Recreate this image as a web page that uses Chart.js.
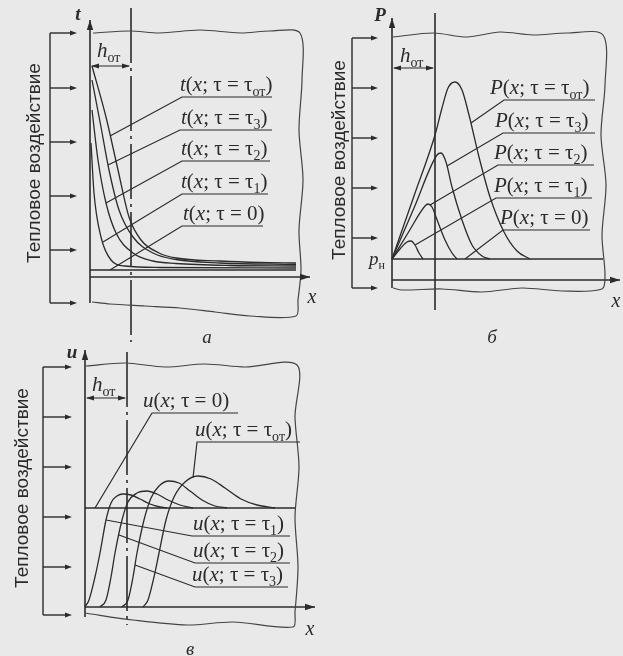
<!DOCTYPE html>
<html>
<head>
<meta charset="utf-8">
<script src="https://cdn.jsdelivr.net/npm/chart.js@4.4.1/dist/chart.umd.min.js"></script>
<style>
html,body{margin:0;padding:0;background:#e9e9e9;}
#wrap{position:relative;width:623px;height:656px;overflow:hidden;}
#wrap canvas{position:absolute;}
</style>
</head>
<body>
<div id="wrap">
	<canvas id="chartA" width="322" height="348" style="left:0;top:0"></canvas>
	<canvas id="chartB" width="301" height="348" style="left:322px;top:0"></canvas>
	<canvas id="chartC" width="340" height="308" style="left:0;top:348px"></canvas>
</div>
<script>
// Units: x = depth (1 unit = 10 px of the figure), y = value above the x axis

// ---- а: temperature t(x) ----
const aTauOt = [[0.2,21.1],[1.6,16.0],[2.8,10.7],[3.9,6.0],[5.1,3.7],[6.9,2.4],[8.6,1.9],[13.0,1.6],[17.0,1.45],[20.6,1.4]];
const aTau3  = [[0.2,19.7],[1.1,15.0],[1.9,10.7],[2.9,6.7],[4.3,4.0],[6.3,2.4],[8.6,1.75],[13.0,1.4],[20.6,1.25]];
const aTau2  = [[0.2,16.7],[0.8,11.7],[1.6,7.4],[2.6,4.4],[4.3,2.4],[6.3,1.6],[8.6,1.35],[14.0,1.15],[20.6,1.1]];
const aTau1  = [[0.1,13.4],[0.4,8.4],[1.1,4.0],[2.1,1.7],[3.5,1.1],[7.0,0.95],[20.6,0.9]];
const aTau0  = [[0,0.7],[20.6,0.7]];
// leaders: order τот, τ3, τ2, τ1, 0
const aLeaderEnd = [[2.0,14.1],[1.8,11.2],[1.6,7.4],[1.3,3.5],[2.0,0.7]];
const aUnderY  = [18.0,14.7,11.6,8.3,5.1];
const aUnderX0 = [9.2,9.0,9.2,9.2,9.2];
const aUnderX1 = [18.2,18.2,18.0,17.8,17.3];
const aLabelX  = [9.0,9.1,9.1,9.1,9.3];
const aLabelY  = [18.6,15.3,12.2,8.9,5.7];
const aFrame = [[0.3,24.4],[4.0,24.6],[7.0,24.4],[11.0,24.7],[15.0,24.4],[18.0,24.6],[21.0,24.4],[21.2,19.7],[20.9,14.7],[21.3,9.7],[20.9,4.7],[21.1,0.7],[20.8,-2.3],[20.6,-3.9],[16.0,-3.9],[12.5,-3.5],[9.0,-3.1],[5.5,-2.9],[2.0,-2.7],[0.2,-2.5]];
const aArrowsY = [24.4,18.9,13.5,8.1,2.7,-2.6];

// ---- б: pressure P(x) ----
const bTauOt = [[0,2.1],[2.2,8.4],[4.3,14.5],[5.0,17.2],[5.6,19.2],[6.3,19.8],[7.0,19.0],[7.7,16.5],[8.7,12.3],[9.8,8.3],[11.2,4.8],[12.5,2.9],[13.8,2.1]];
const bTau3  = [[0,2.1],[2.2,7.2],[4.5,12.5],[4.9,12.7],[5.4,11.8],[6.0,9.3],[7.0,6.0],[8.0,3.5],[9.0,2.4],[9.8,2.1]];
const bTau2  = [[0,2.1],[1.6,4.7],[3.3,7.4],[3.6,7.6],[4.0,7.3],[4.4,6.3],[5.3,4.0],[6.0,2.7],[6.5,2.1]];
const bTau1  = [[0,2.1],[0.8,3.1],[1.5,3.8],[1.9,3.9],[2.3,3.5],[2.7,2.7],[3.1,2.1]];
const bTau0  = [[0,2.1],[21.1,2.1]];
const bLeaderEnd = [[7.9,15.7],[5.5,11.4],[3.8,7.5],[2.3,3.5],[7.3,2.1]];
const bUnderY  = [18.0,14.7,11.5,8.2,5.0];
const bUnderX0 = [11.2,11.1,10.6,10.4,11.1];
const bUnderX1 = [20.3,20.3,20.2,20.0,19.8];
const bLabelX  = [9.8,10.3,10.2,10.2,10.8];
const bLabelY  = [18.6,15.3,12.1,8.8,5.6];
const bFrame = [[0.1,24.3],[4.1,24.7],[7.5,24.3],[10.8,24.8],[14.1,24.5],[17.5,24.7],[21.1,24.5],[21.3,19.5],[20.9,14.5],[21.4,9.5],[21.0,4.5],[21.3,0.5],[21.0,-0.9],[17.0,-1.1],[13.0,-0.8],[9.0,-1.2],[5.0,-0.9],[1.0,-1.0],[0.1,-0.8]];
const bArrowsY = [24.2,19.2,14.2,9.2,4.2,-0.8];

// ---- в: moisture u(x) ----
const cTauOt = [[5.8,0],[6.3,0.7],[6.9,3.0],[7.4,5.4],[8.1,8.7],[8.9,11.0],[10.0,12.5],[11.3,13.1],[12.6,12.8],[14.0,11.9],[15.6,10.8],[17.2,10.2],[19.0,9.9]];
const cTau3  = [[3.7,0],[4.3,0.7],[4.8,3.0],[5.2,5.4],[5.9,8.7],[6.6,10.9],[7.4,12.1],[8.4,12.6],[9.4,12.4],[10.5,11.6],[11.7,10.7],[13.0,10.1],[14.2,9.9]];
const cTau2  = [[1.5,0],[2.1,0.7],[2.6,3.0],[3.0,5.4],[3.7,8.7],[4.3,10.5],[5.2,11.4],[6.2,11.6],[7.2,11.3],[8.3,10.7],[9.5,10.2],[10.8,9.9]];
const cTau1  = [[0,0],[0.4,0.7],[1.0,3.0],[1.5,5.4],[2.1,8.7],[2.6,10.4],[3.2,11.1],[3.8,11.3],[4.6,11.2],[5.5,10.8],[6.5,10.3],[7.5,10.0],[8.2,9.9]];
const cTau0  = [[0,9.9],[21.0,9.9]];
// leaders: order 0, τот, τ1, τ2, τ3
const cLeaderEnd = [[1.0,9.9],[10.8,12.9],[2.1,8.7],[3.4,7.2],[5.0,4.2]];
const cUnderY  = [19.4,16.5,7.1,4.4,2.0];
const cUnderX0 = [6.7,11.2,10.7,11.0,11.0];
const cUnderX1 = [15.3,21.5,20.5,20.5,20.3];
const cLabelX  = [5.8,11.0,10.8,10.8,10.7];
const cLabelY  = [20.0,17.1,7.7,5.0,2.6];
const cFrame = [[0.1,24.1],[4.0,24.4],[8.0,24.0],[12.0,24.3],[16.0,24.0],[21.2,24.2],[21.0,19.0],[21.4,14.0],[21.0,9.0],[21.3,4.0],[21.0,-0.5],[20.8,-2.0],[14.8,-1.5],[10.2,-1.8],[4.8,-1.3],[0.0,-0.6]];
const cArrowsY = [24.0,19.0,14.0,9.0,4.0,-0.8];

const INK = '#2b2b2b';
const SERIF = '"Liberation Serif","Times New Roman",serif';
const SANS = '"Liberation Sans",Arial,sans-serif';
const SIDE_TEXT = 'Тепловое воздействие';
const LABEL_PX = 21;

function pts(a){ return a.map(p=>({x:p[0], y:p[1]})); }
function curve(a){ return {data:pts(a), showLine:true, pointRadius:0, borderColor:INK, borderWidth:1.3, cubicInterpolationMode:'monotone'}; }
function straight(a, w, dash){ return {data:pts(a), showLine:true, pointRadius:0, borderColor:INK, borderWidth:w||1.2, tension:0, borderDash:dash||[]}; }
function wavy(a){ return {data:pts(a), showLine:true, pointRadius:0, borderColor:'#444', borderWidth:1.2, tension:0.3}; }
function leaders(ends, ys, x0s, x1s){ return ends.map((e,i)=>straight([e,[x0s[i],ys[i]],[x1s[i],ys[i]]], 1.2)); }

// label text as parts: [text, style] where style i = italic, s = subscript
function fnLabel(v, sub){
	const p = [[v,'i'],['(',''],['x','i'],['; τ = ','']];
	if(sub === '0') p.push(['0','']); else p.push(['τ',''],[sub,'s']);
	p.push([')','']);
	return p;
}

function drawParts(ctx, parts, x, y, size){
	let cx = x;
	parts.forEach(([t, st])=>{
		const sub = st === 's';
		ctx.font = (st === 'i' ? 'italic ' : '') + (sub ? Math.round(size*0.65) : size) + 'px ' + SERIF;
		ctx.fillText(t, cx, sub ? y + size*0.22 : y);
		cx += ctx.measureText(t).width;
	});
}

function arrowHead(ctx, x1, y1, x2, y2, len, half){
	const a = Math.atan2(y2-y1, x2-x1), c = Math.cos(a), s = Math.sin(a);
	ctx.beginPath();
	ctx.moveTo(x2, y2);
	ctx.lineTo(x2 - len*c + half*s, y2 - len*s - half*c);
	ctx.lineTo(x2 - len*c - half*s, y2 - len*s + half*c);
	ctx.closePath(); ctx.fill();
}

const decor = {
	id: 'decor',
	afterDatasetsDraw(chart, args, o){
		const ctx = chart.ctx;
		const X = v => chart.scales.x.getPixelForValue(v);
		const Y = v => chart.scales.y.getPixelForValue(v);
		ctx.save();
		ctx.strokeStyle = INK; ctx.fillStyle = INK; ctx.lineWidth = 1.4;

		// bracket of heat arrows
		const b = o.bracket;
		ctx.beginPath(); ctx.moveTo(X(b.x), Y(b.ys[0])); ctx.lineTo(X(b.x), Y(b.ys[b.ys.length-1])); ctx.stroke();
		b.ys.forEach(v=>{
			ctx.beginPath(); ctx.moveTo(X(b.x), Y(v)); ctx.lineTo(X(b.tip)-3, Y(v)); ctx.stroke();
			arrowHead(ctx, X(b.x), Y(v), X(b.tip), Y(v), 7, 2.5);
		});

		// side caption
		ctx.save();
		ctx.translate(X(o.side[0]), Y(o.side[1])); ctx.rotate(-Math.PI/2);
		ctx.font = '19px ' + SANS; ctx.textAlign = 'center'; ctx.textBaseline = 'middle';
		ctx.fillText(SIDE_TEXT, 0, 0);
		ctx.restore();

		// axis arrow heads
		arrowHead(ctx, X(0), Y(0), X(0), Y(o.yTop), 10, 3.2);
		arrowHead(ctx, X(0), Y(0), X(o.xTip), Y(0), 10, 3.2);

		// axis names
		ctx.textAlign = 'center'; ctx.textBaseline = 'middle';
		ctx.font = 'italic bold 19px ' + SERIF;
		ctx.fillText(o.yName, X(o.yNameAt[0]), Y(o.yNameAt[1]));
		ctx.font = 'italic 20px ' + SERIF;
		ctx.fillText('x', X(o.xNameAt[0]), Y(o.xNameAt[1]));

		// h_от dimension
		ctx.lineWidth = 1.1;
		const h = o.hot;
		ctx.beginPath(); ctx.moveTo(X(0)+2, Y(h.y)); ctx.lineTo(X(h.x)-2, Y(h.y)); ctx.stroke();
		arrowHead(ctx, X(h.x), Y(h.y), X(0)+1, Y(h.y), 8, 2.5);
		arrowHead(ctx, X(0), Y(h.y), X(h.x)-1, Y(h.y), 8, 2.5);
		ctx.textAlign = 'left'; ctx.textBaseline = 'alphabetic';
		drawParts(ctx, [['h','i'],['от','s']], X(h.tx), Y(h.ty), 21);

		// curve labels
		o.labels.forEach(l=>drawParts(ctx, l.parts, X(l.x), Y(l.y), LABEL_PX));

		// extra labels (p_н)
		(o.extra||[]).forEach(l=>drawParts(ctx, l.parts, X(l.x), Y(l.y), 19));

		// panel letter
		ctx.textAlign = 'center'; ctx.textBaseline = 'middle';
		ctx.font = 'italic 19px ' + SERIF;
		ctx.fillText(o.letter, X(o.letterAt[0]), Y(o.letterAt[1]));
		ctx.restore();
	}
};

function makeLabels(v, subs, xs, ys){ return subs.map((s,i)=>({parts:fnLabel(v,s), x:xs[i], y:ys[i]})); }

function buildPanel(id, p){
	const datasets = [
		...p.curves.map(curve),
		straight(p.init, 1.3),
		...p.leaders,
		wavy(p.frame),
		straight([[0,p.yBottom],[0,p.yTop]], 1.6),
		straight([[0,0],[p.xTip,0]], 1.6),
		straight(p.refLine, 1.6, p.refDash)
	];
	return new Chart(document.getElementById(id), {
		type: 'scatter',
		data: { datasets },
		options: {
			responsive: false, animation: false, events: [],
			layout: { padding: 0 },
			scales: {
				x: { type:'linear', min:p.xr[0], max:p.xr[1], display:false },
				y: { type:'linear', min:p.yr[0], max:p.yr[1], display:false }
			},
			plugins: { legend:{display:false}, tooltip:{enabled:false}, decor:p.decor }
		},
		plugins: [decor]
	});
}

buildPanel('chartA', {
	xr:[-9.0,23.2], yr:[-7.1,27.7],
	curves:[aTauOt,aTau3,aTau2,aTau1], init:aTau0,
	leaders: leaders(aLeaderEnd, aUnderY, aUnderX0, aUnderX1),
	frame:aFrame, yBottom:-2.6, yTop:25.7, xTip:22.0,
	refLine:[[4.1,26.9],[4.1,-6.5]], refDash:[55,5,3,5],
	decor:{
		bracket:{x:-4.0, tip:-1.3, ys:aArrowsY}, side:[-5.5,11.4],
		yTop:25.7, xTip:22.0, yName:'t', yNameAt:[-1.2,26.2], xNameAt:[22.2,-2.1],
		hot:{y:21.1, x:4.1, tx:0.7, ty:22.0},
		labels: makeLabels('t', ['от','3','2','1','0'], aLabelX, aLabelY),
		letter:'а', letterAt:[11.7,-6.1]
	}
});

buildPanel('chartB', {
	xr:[-7.0,23.1], yr:[-6.8,28.0],
	curves:[bTauOt,bTau3,bTau2,bTau1], init:bTau0,
	leaders: leaders(bLeaderEnd, bUnderY, bUnderX0, bUnderX1),
	frame:bFrame, yBottom:-0.8, yTop:26.2, xTip:22.8,
	refLine:[[4.3,26.7],[4.3,-3.0]], refDash:[],
	decor:{
		bracket:{x:-4.0, tip:-1.4, ys:bArrowsY}, side:[-5.2,12.0],
		yTop:26.2, xTip:22.8, yName:'P', yNameAt:[-1.2,26.4], xNameAt:[22.4,-2.2],
		hot:{y:21.2, x:4.3, tx:0.8, ty:21.8},
		labels: makeLabels('P', ['от','3','2','1','0'], bLabelX, bLabelY),
		extra:[{parts:[['p','i'],['н','s']], x:-2.3, y:1.5}],
		letter:'б', letterAt:[10.0,-5.8]
	}
});

buildPanel('chartC', {
	xr:[-8.5,25.5], yr:[-4.9,25.9],
	curves:[cTauOt,cTau3,cTau2,cTau1], init:cTau0,
	leaders: leaders(cLeaderEnd, cUnderY, cUnderX0, cUnderX1),
	frame:cFrame, yBottom:-1.0, yTop:25.7, xTip:23.0,
	refLine:[[4.2,25.5],[4.2,-1.8]], refDash:[55,5,3,5],
	decor:{
		bracket:{x:-4.2, tip:-1.3, ys:cArrowsY}, side:[-6.2,11.9],
		yTop:25.7, xTip:23.0, yName:'u', yNameAt:[-1.3,25.4], xNameAt:[22.5,-2.3],
		hot:{y:20.9, x:4.2, tx:0.7, ty:21.6},
		labels: makeLabels('u', ['0','от','1','2','3'], cLabelX, cLabelY),
		letter:'в', letterAt:[10.5,-4.3]
	}
});
</script>
</body>
</html>
